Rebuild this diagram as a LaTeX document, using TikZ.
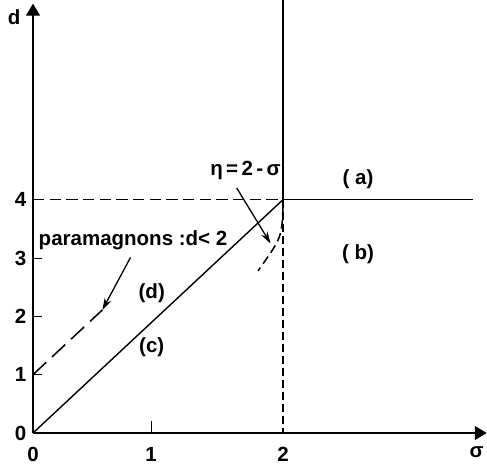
\documentclass[tikz,border=0pt]{standalone}
\usepackage{fontspec}
\setmainfont{Liberation Sans}
\usetikzlibrary{arrows.meta,calc}

\begin{document}
\begin{tikzpicture}[
  x=3.75cm, y=1.75cm,
  font=\fontsize{17.5}{19}\selectfont\bfseries,
  axis/.style={line width=1.1pt,-{Triangle[width=4.2mm,length=3.6mm]}},
  solidline/.style={line width=1.2pt},
  dashline/.style={line width=1.3pt,dash pattern=on 3.4mm off 1.6mm},
  pointer/.style={line width=1.1pt,-{Stealth[width=2.2mm,length=3.6mm]}},
  region/.style={inner sep=1pt}
]
\useasboundingbox (-0.99cm,-0.93cm) rectangle (13.62cm,12.99cm);

% axes
\coordinate (o) at (0,0);
\draw[axis] (o) -- (3.63,0);
\draw[axis] (o) -- (0,7.36);
\node (dlab) at (-0.15,7.13) {d};
\node (slab) at (3.55,-0.33) {σ};

% ticks and tick labels
\foreach \k in {1,2,3}{
  \draw[line width=0.8pt] (0,\k) -- ++(0.28cm,0);
  \node (yt-\k) at (-0.1,\k) {\k};
}
\node (yt-4) at (-0.1,4) {4};
\node (yt-0) at (-0.1,0) {0};
\draw[line width=0.8pt] (0.944,0) -- ++(0,0.36cm);
\node (xt-0) at (0,-0.36) {0};
\node (xt-1) at (0.944,-0.36) {1};
\node (xt-2) at (2,-0.36) {2};

% phase boundaries
\coordinate (p) at (2,4);
\draw[solidline] (p) -- (2,7.42);
\draw[solidline] (p) -- (3.52,4);
\draw[dashline] (0,4) -- (p);
\draw[dashline,dash pattern=on 2.4mm off 1.2mm] (p) -- (2,0);
\draw[solidline] (o) -- (p);
\draw[dashline,dash pattern=on 5.4mm off 2.4mm] (0,1) -- (0.555,2.11) coordinate (pend);
\draw[dashline,dash pattern=on 2.6mm off 1.4mm] (2,3.88) .. controls (1.99,3.35) .. (1.8,2.78);
\coordinate (cv) at (1.9,3.25);

% regions
\node[region] (ra) at (2.6,4.35) {( a)};
\node[region] (rb) at (2.6,3.07) {( b)};
\node[region] (rc) at (0.95,1.47) {(c)};
\node[region] (rd) at (0.95,2.4) {(d)};

% labels with pointers
\node (para) at (0.8,3.3) {paramagnons :d< 2};
\node (eta) at (1.7,4.5) {η\,=\,2\,-\,σ};
\draw[pointer] (0.78,3.01) -- (pend);
\draw[pointer] (1.63,4.2) -- (cv);
\end{tikzpicture}
\end{document}
